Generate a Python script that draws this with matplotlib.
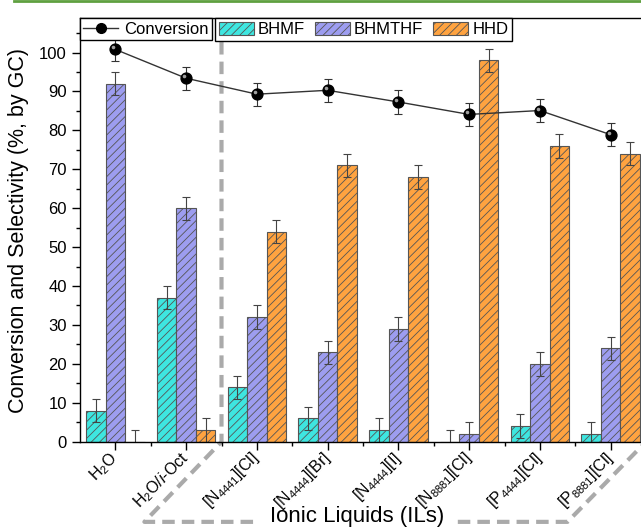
import numpy as np
import matplotlib.pyplot as plt
from matplotlib.lines import Line2D
from matplotlib.patches import Patch
from matplotlib.transforms import ScaledTranslation

plt.rcParams['font.family'] = ['Liberation Sans', 'DejaVu Sans']
plt.rcParams['mathtext.fontset'] = 'custom'
plt.rcParams['mathtext.rm'] = 'Liberation Sans'
plt.rcParams['mathtext.it'] = 'Liberation Sans:italic'
plt.rcParams['hatch.linewidth'] = 0.6

# Données
categories = [r'H$_2$O', r'H$_2$O/$i$-Oct', r'[N$_{4441}$][Cl]', r'[N$_{4444}$][Br]',
              r'[N$_{4444}$][I]', r'[N$_{8881}$][Cl]', r'[P$_{4444}$][Cl]', r'[P$_{8881}$][Cl]']
bhmf = [8, 37, 14, 6, 3, 0, 4, 2]
bhmthf = [92, 60, 32, 23, 29, 2, 20, 24]
hhd = [0, 3, 54, 71, 68, 98, 76, 74]
conversion = [100.8, 93.4, 89.3, 90.3, 87.3, 84.1, 85.1, 78.9]
err_bars = [3] * 8
err_conv = [3] * 8

colors = ['#3EE6E0', '#9D9DF0', '#FFA340']
edge = '#555555'

fig = plt.figure(figsize=(6.41, 5.31), dpi=100)
ax = fig.add_axes([80 / 641, 89.3 / 531, 566 / 641, 423.4 / 531])

x = np.arange(len(categories))
w = 0.275
series = [('BHMF', bhmf), ('BHMTHF', bhmthf), ('HHD', hhd)]
for i, (name, vals) in enumerate(series):
    ax.bar(x + (i - 1) * w, vals, w, color=colors[i], edgecolor=edge, linewidth=0.8,
           hatch='////', yerr=err_bars, capsize=3,
           error_kw=dict(ecolor='#444444', elinewidth=0.8, capthick=0.8), zorder=2)

# Conversion
ax.errorbar(x, conversion, yerr=err_conv, color='#333333', lw=1, capsize=3,
            elinewidth=0.8, capthick=0.8, zorder=4)
ax.plot(x, conversion, 'o', color='black', ms=7.8, zorder=5)
shift = ax.transData + ScaledTranslation(-1.4 / 72, 1.4 / 72, fig.dpi_scale_trans)
ax.plot(x, conversion, 'o', color='#a0a0a0', ms=2.6, mec='none', transform=shift, zorder=6)

ax.set_xlim(-0.5, 7.5)
ax.set_ylim(0, 108.8)
ax.set_yticks(np.arange(0, 101, 10))
ax.set_yticks(np.arange(5, 108, 10), minor=True)
ax.set_xticks(x)
ax.set_xticks(x[:-1] + 0.5, minor=True)
ax.set_xticklabels(categories, rotation=45, ha='right', va='center', rotation_mode='anchor')
ax.tick_params(axis='both', which='major', direction='out', length=6, width=1, labelsize=12)
ax.tick_params(axis='both', which='minor', direction='out', length=3, width=1)
ax.tick_params(axis='x', which='major', pad=4, labelsize=11.5)
for s in ax.spines.values():
    s.set_linewidth(1)
ax.set_ylabel('Conversion and Selectivity (%, by GC)', fontsize=15.5, labelpad=7)

# Légendes
h1 = [Line2D([], [], color='#333333', lw=1, marker='o', mfc='black', mec='black', ms=7)]
leg1 = ax.legend(h1, ['Conversion'], loc='upper left', bbox_to_anchor=(0, 1),
                 borderaxespad=0, fancybox=False, edgecolor='black', fontsize=12,
                 handlelength=2.1, borderpad=0.2, handletextpad=0.35, framealpha=1)
leg1.get_frame().set_linewidth(1)
ax.add_artist(leg1)
h2 = [Patch(facecolor=c, edgecolor=edge, hatch='////', linewidth=0.8) for c in colors]
leg2 = ax.legend(h2, [n for n, _ in series], loc='upper left', bbox_to_anchor=(0.2385, 1),
                 borderaxespad=0, fancybox=False, edgecolor='black', fontsize=12, ncol=3,
                 handlelength=2.1, handleheight=0.85, borderpad=0.22, handletextpad=0.25,
                 columnspacing=0.6, framealpha=1)
leg2.get_frame().set_linewidth(1)

# Accolade en tirets sous les liquides ioniques
tr = ax.transData
dash = dict(color='#aaaaaa', lw=3, ls=(0, (3, 1.7)), clip_on=False, zorder=1)
ax.plot([1.5, 1.5, 0.41, 1.99], [102.7, 0, -20.6, -20.6], transform=tr, **dash)
ax.plot([4.84, 6.39, 7.5, 7.5], [-20.6, -20.6, 0, 102.7], transform=tr, **dash)
ax.text(3.415, -19.2, 'Ionic Liquids (ILs)', fontsize=16, ha='center', va='center',
        clip_on=False)

# Liseré vert en haut de la page
fig.add_artist(Line2D([14 / 641, 1], [1 - 1 / 531, 1 - 1 / 531], color='#5fa040', lw=2,
                      transform=fig.transFigure))

fig.savefig('out.png', dpi=100)
